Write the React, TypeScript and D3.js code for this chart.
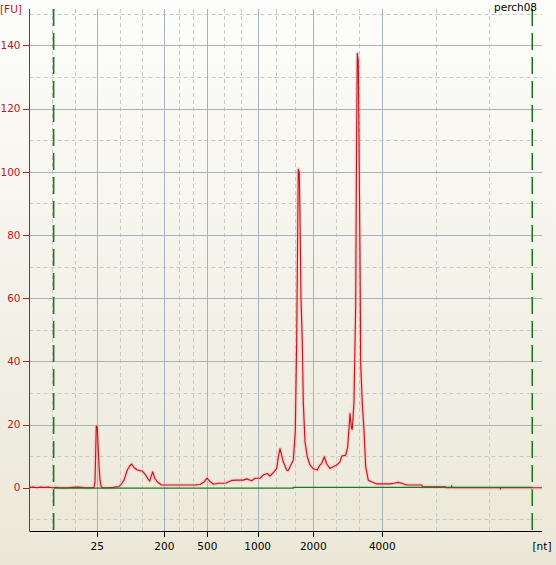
import React from "react";
import * as d3 from "d3";

// ---- data ----
const sampleName = "perch08";
const yUnit = "[FU]";
const xUnit = "[nt]";
// ladder sizes defining the (piecewise) nt axis; first = left edge, last = right edge
const ladderNt = [0, 25, 200, 500, 1000, 2000, 4000, 6000];
const xTickValues = [25, 200, 500, 1000, 2000, 4000];
const xTickLabels = ["25", "200", "500", "1000", "2000", "4000"];
const yTickValues = [0, 20, 40, 60, 80, 100, 120, 140];
const yMinorValues = [-10, 10, 30, 50, 70, 90, 110, 130, 150];
// alignment marker window (green dashed lines)
const markerWindow = [8.9, 5878];
// baseline (green) : [nt, FU]
const baselinePts: [number, number][] = [
  [8.9, -0.15], [1640, -0.15], [1640, 0.1], [5878, 0.1],
];
// electropherogram trace : size (nt)
const traceNt = [
  0, 1.46, 2.56, 4.03, 5.49, 6.95, 8.42, 9.88, 11.35, 13.54, 15.74, 17.94, 20.13, 22.33, 23.79,
  24.16, 24.63, 25, 27.6, 29.4, 32.1, 34.7, 38.1, 52.9, 66.0, 81.7, 86.9, 94.7, 103.4, 109.1,
  114.9, 120.9, 129.5, 136.5, 142.5, 151.4, 157.4, 161.9, 165.3, 169.7, 174.9, 181.7, 192.2,
  239.8, 309.5, 379.3, 421.2, 449.1, 477.0, 497.9,
  526.8, 559.5, 609.1, 658.7, 685.5, 742.1, 794.6, 857.1, 890.9, 940.5, 973.2,
  1041.4, 1100.7, 1172.7, 1221.2, 1293.2, 1341.7, 1374.1, 1401.1, 1428.1, 1460.4, 1521.6, 1545.0,
  1581.0, 1640.3, 1676.3, 1701.5, 1725.0, 1730.4, 1748.2, 1760.8, 1778.8, 1802.2, 1820.2, 1850.7,
  1892.1, 1940.8, 2000,
  2115.9, 2173.9, 2243.5, 2318.8, 2388.4, 2484.1, 2579.7, 2678.3, 2774.1, 2823.3, 2939.2, 2997.1,
  3063.8, 3107.3, 3130.5, 3179.8, 3229.0, 3258.0, 3275.4, 3304.4, 3324.7, 3353.7, 3374.0, 3420.4,
  3469.7, 3519.0, 3594.3, 3643.6, 3837.8,
  4096.4, 4146.5, 4200.4, 4242.9, 4305.6, 4409.5, 4493.4, 4505.9, 4793.9, 4797.7, 4860.3, 4869.1,
  4876.6, 5473.9, 5477.7, 5486.5, 5849.6, 6000,
];
// fluorescence (FU)
const traceFU = [
  0.1, 0.2, 0, 0.2, 0.1, 0.2, 0, 0.15, 0, 0, 0.1, 0.2, 0.05, 0, 0.1,
  2, 19.6, 19.2, 12, 7, 2.5, 0.6, 0, 0, 0.1, 0.4, 1, 2.4, 5.6, 6.8,
  7.5, 6.4, 5.6, 5.4, 5.3, 4, 2.8, 2.1, 3.5, 5.0, 3.0, 1.9, 0.85,
  0.85, 0.85, 0.85, 0.9, 1.0, 1.8, 3.0,
  2, 1.1, 1.4, 1.4, 1.5, 2.3, 2.4, 2.4, 2.8, 2.2, 3.0,
  3.0, 4.0, 4.5, 3.7, 5.0, 6.1, 10, 12.4, 10.5, 8.2, 5.6, 5.4,
  6.6, 8.7, 17.7, 47, 92, 100.8, 99.7, 86, 59.7, 46, 27, 14.5,
  9.8, 7.2, 6.0,
  5.6, 6.9, 7.7, 9.8, 7.5, 6.1, 6.6, 7.2, 8.2, 10, 10.3, 12.9,
  23.5, 18.7, 18.5, 27, 58, 115, 137.5, 135, 109.7, 72.9, 39.2, 26.6,
  18.2, 6.6, 2.4, 2.1, 1.2,
  1.2, 1.4, 1.7, 1.4, 0.85, 0.85, 0.85, 0.3, 0.3, 0, 0, 0.6,
  0, 0, -0.4, 0, 0, 0,
];

const W = 556;
const H = 565;
const FONT = "'DejaVu Sans', Verdana, sans-serif";

export default function App() {
  const L = 29.5, R = 542, T = 9, B = 531;
  const ladderPx = [L, 97.3, 164.3, 207.3, 257.7, 313.3, 382.3, R];
  const x = d3.scaleLinear().domain(ladderNt).range(ladderPx);
  const y = d3.scaleLinear().domain([-13.7, 151.5]).range([B, T]);

  const minorX: number[] = [];
  for (let i = 0; i < ladderNt.length - 1; i++) {
    const a = ladderNt[i], b = ladderNt[i + 1];
    minorX.push(a + (b - a) / 3, a + (2 * (b - a)) / 3);
  }

  const pts: [number, number][] = traceNt.map((n, i) => [n, traceFU[i]]);
  const line = d3.line<[number, number]>().x((d) => x(d[0])).y((d) => y(d[1]));
  const traceD = line(pts) || "";
  const baseD = line(baselinePts) || "";

  const gridSolid = "#a9b0be";
  const gridDash = "#c9c9c6";
  const red = "#c4161c";
  const green = "#1f7a1f";

  return (
    <svg
      width={W}
      height={H}
      style={{ position: "fixed", left: 0, top: 0, display: "block" }}
      fontFamily={FONT}
    >
      <defs>
        <linearGradient id="bg" x1="0" y1="0" x2="0" y2="1">
          <stop offset="0" stopColor="#fdfdfb" />
          <stop offset="1" stopColor="#ebe8d8" />
        </linearGradient>
      </defs>
      <rect x={0} y={0} width={W} height={H} fill="url(#bg)" />

      {/* minor horizontal grid */}
      {yMinorValues.map((v) => (
        <line key={"ym" + v} x1={L} x2={R} y1={Math.round(y(v)) + 0.5} y2={Math.round(y(v)) + 0.5}
          stroke={gridDash} strokeDasharray="4,3" />
      ))}
      {/* minor vertical grid */}
      {minorX.map((v, i) => (
        <line key={"xm" + i} x1={Math.round(x(v)) + 0.5} x2={Math.round(x(v)) + 0.5} y1={T} y2={B}
          stroke={gridDash} strokeDasharray="4,3" />
      ))}
      {/* major horizontal grid */}
      {yTickValues.filter((v) => v !== 0).map((v) => (
        <line key={"yM" + v} x1={L} x2={R} y1={Math.round(y(v)) + 0.5} y2={Math.round(y(v)) + 0.5}
          stroke={gridSolid} strokeWidth={1} />
      ))}
      {/* major vertical grid */}
      {xTickValues.map((v) => (
        <line key={"xM" + v} x1={Math.round(x(v)) + 0.5} x2={Math.round(x(v)) + 0.5} y1={T} y2={B}
          stroke={gridSolid} strokeWidth={1} />
      ))}

      {/* marker window lines */}
      {markerWindow.map((v) => (
        <line key={"mk" + v} x1={x(v)} x2={x(v)} y1={T} y2={B} stroke={green}
          strokeWidth={1.6} strokeDasharray="17,7" />
      ))}

      {/* trace glow + trace */}
      <path d={traceD} fill="none" stroke="#f4b4b4" strokeOpacity={0.45} strokeWidth={4}
        strokeLinejoin="round" />
      <path d={traceD} fill="none" stroke={red} strokeWidth={1.15} strokeLinejoin="round" />

      {/* baseline */}
      <path d={baseD} fill="none" stroke={green} strokeWidth={1.3} />

      {/* axes */}
      <line x1={L} x2={L} y1={T} y2={B} stroke={red} strokeWidth={1} />
      <line x1={L} x2={R} y1={B + 0.5} y2={B + 0.5} stroke="#000" strokeWidth={1} />

      {/* y ticks & labels */}
      {yTickValues.map((v) => (
        <g key={"yt" + v}>
          <line x1={23} x2={L} y1={Math.round(y(v)) + 0.5} y2={Math.round(y(v)) + 0.5} stroke={red} />
          <text x={20.5} y={y(v)} dy="0.36em" textAnchor="end" fontSize={10.5} fill={red}>
            {v}
          </text>
        </g>
      ))}
      <text x={0} y={13} fontSize={10.5} fill={red}>{yUnit}</text>

      {/* x ticks & labels */}
      {xTickValues.map((v, i) => (
        <g key={"xt" + v}>
          <line x1={Math.round(x(v)) + 0.5} x2={Math.round(x(v)) + 0.5} y1={B} y2={B + 6} stroke="#000" />
          <text x={x(v)} y={549.5} textAnchor="middle" fontSize={10.5} fill="#000">
            {xTickLabels[i]}
          </text>
        </g>
      ))}
      <text x={x(ladderNt[ladderNt.length - 1])} y={549.5} textAnchor="middle" fontSize={10.5} fill="#000">
        {xUnit}
      </text>

      <text x={537} y={11} textAnchor="end" fontSize={10.5} fill="#000">{sampleName}</text>
    </svg>
  );
}
